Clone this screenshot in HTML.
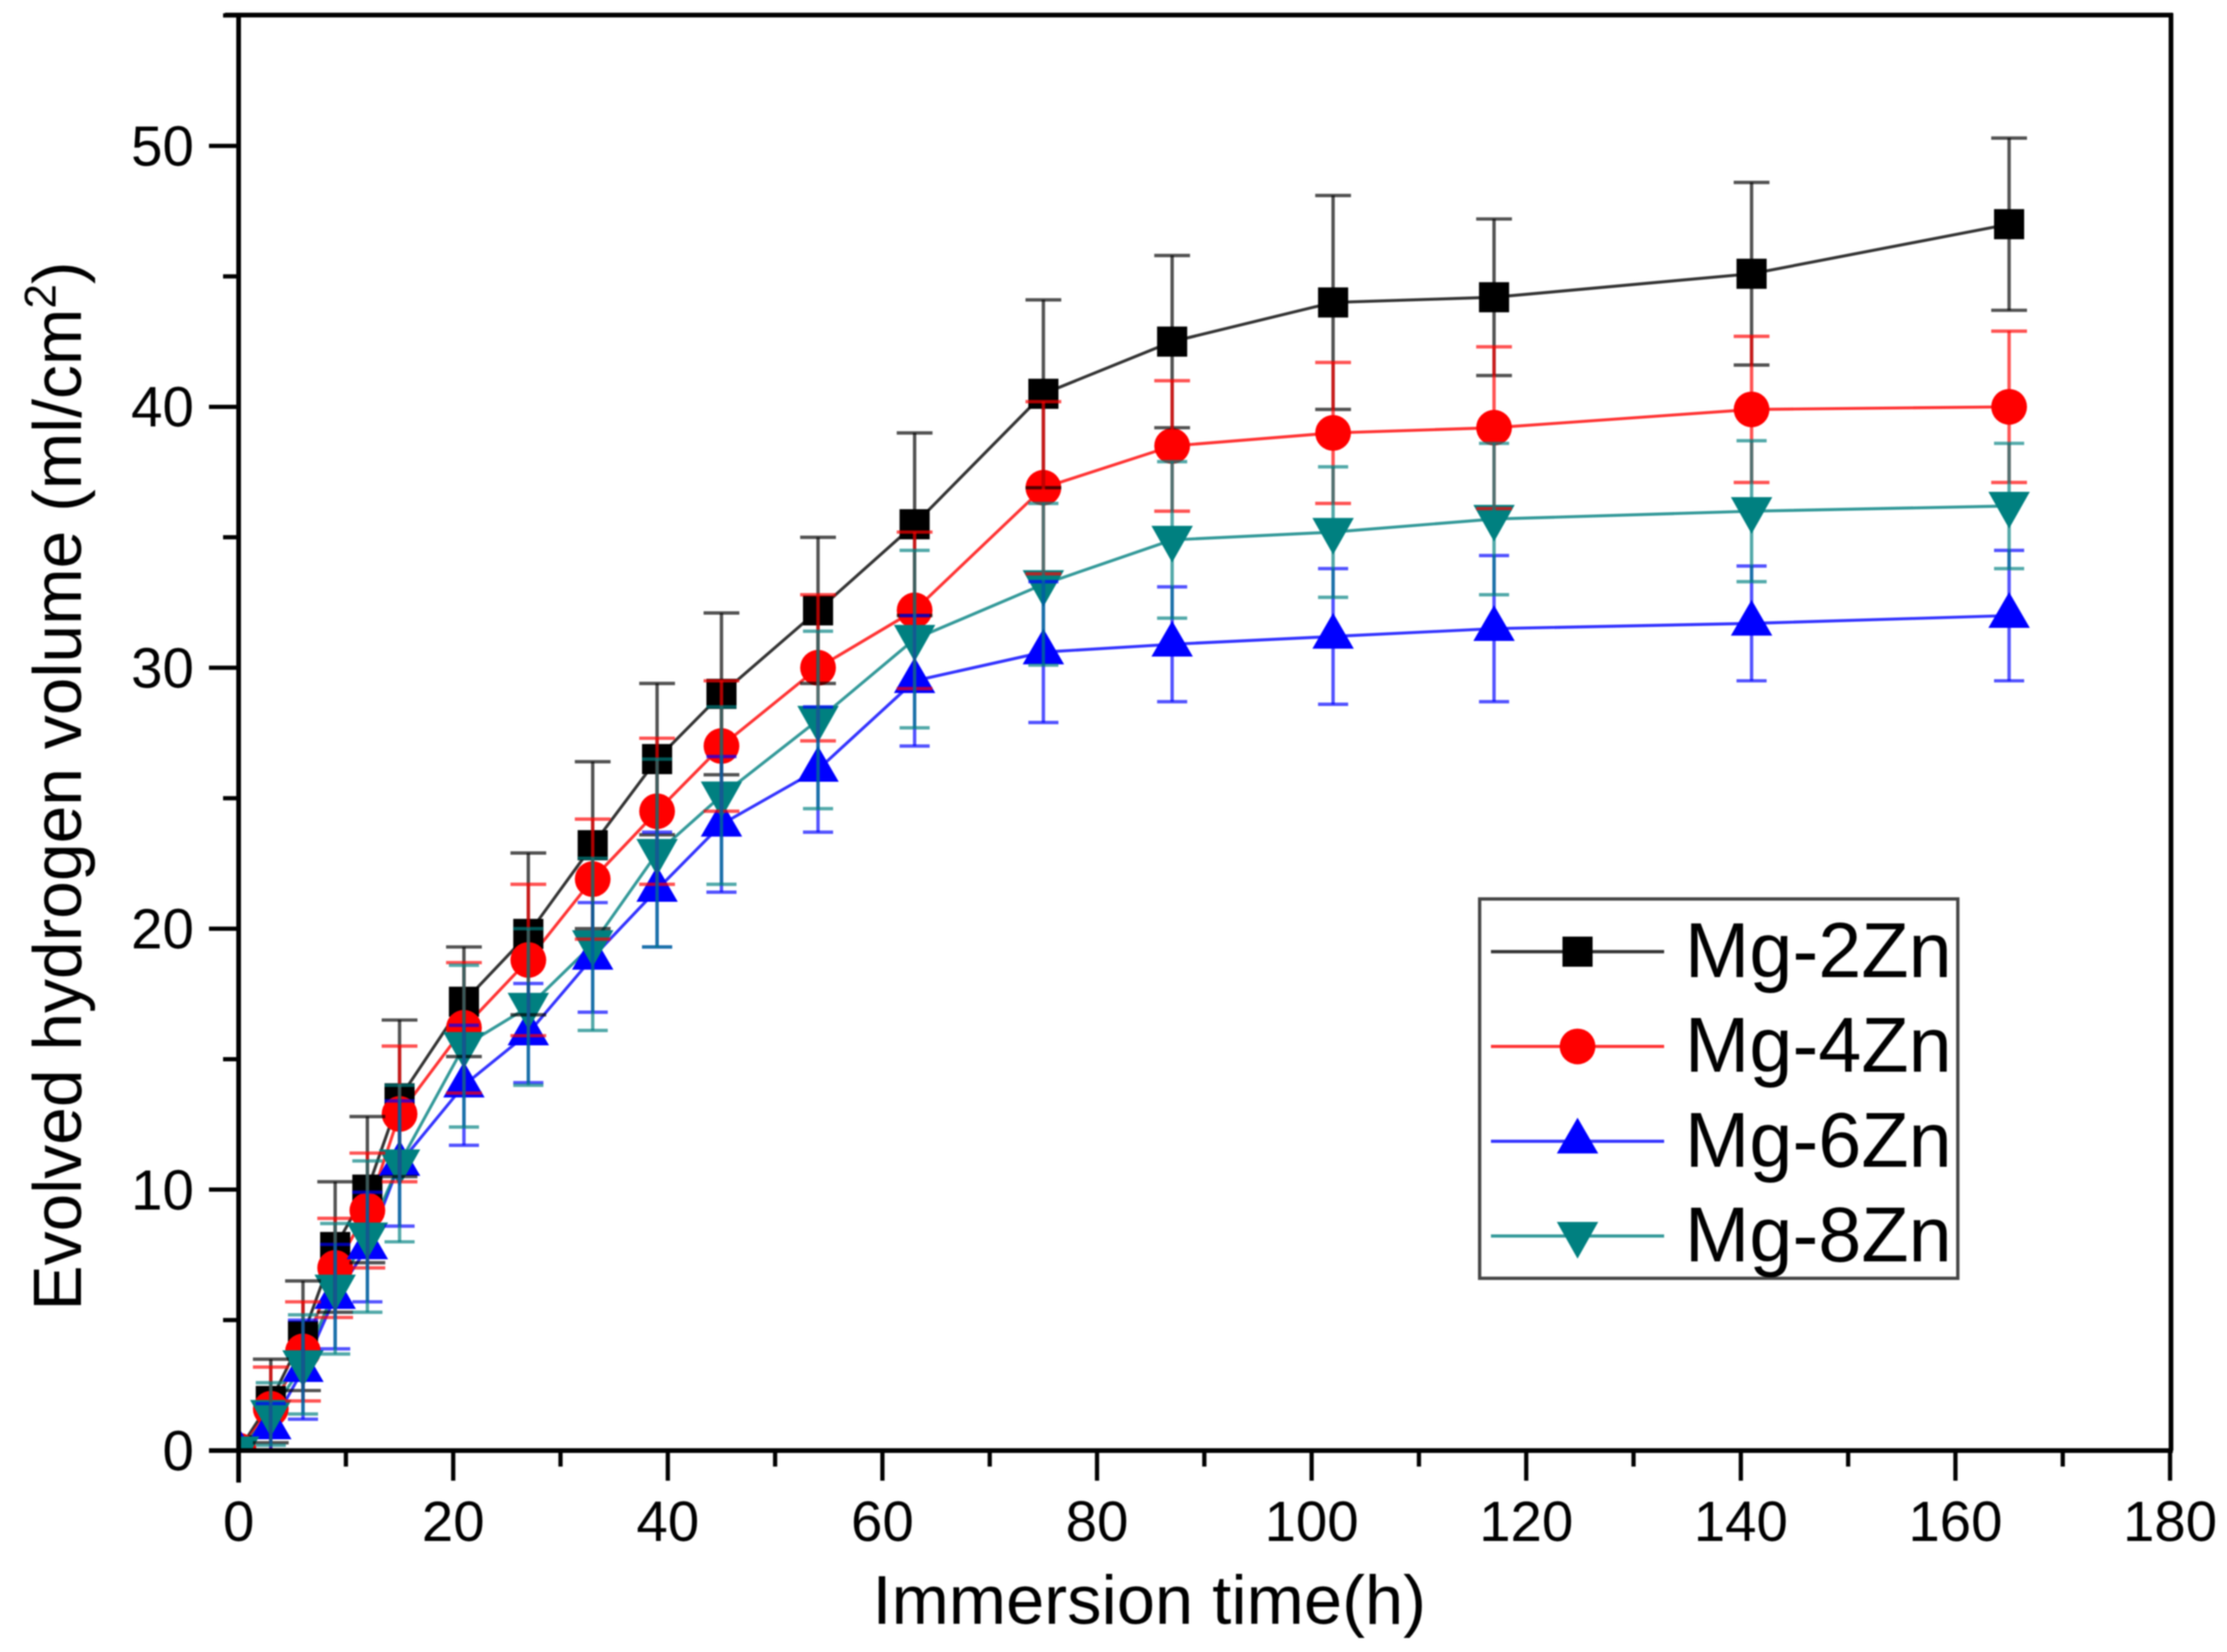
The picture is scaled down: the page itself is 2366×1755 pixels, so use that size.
<!DOCTYPE html>
<html>
<head>
<meta charset="utf-8">
<title>Evolved hydrogen volume chart</title>
<style>
html,body{margin:0;padding:0;background:#fff;width:2366px;height:1755px;overflow:hidden}
svg{display:block;font-family:"Liberation Sans",Arial,sans-serif;filter:blur(0.9px)}
</style>
</head>
<body>
<svg id="chart" xmlns="http://www.w3.org/2000/svg" width="2366" height="1755" viewBox="0 0 2366 1755">
<rect width="2366" height="1755" fill="#fff"/>
<defs><clipPath id="plot-clip"><rect x="254" y="16" width="2052" height="1525"/></clipPath></defs>
<g id="series-lines" clip-path="url(#plot-clip)"></g>
<g id="series-markers" clip-path="url(#plot-clip)"></g>
<g id="error-bars"></g>
<g id="axes"></g>
<text x="1221" y="1725" font-size="73" text-anchor="middle" fill="#000">Immersion time(h)</text>
<text transform="translate(86,835) rotate(-90)" font-size="72" text-anchor="middle" fill="#000">Evolved hydrogen volume (ml/cm<tspan font-size="47" dy="-27">2</tspan><tspan dy="27">)</tspan></text>
<g id="legend">
<rect x="1572" y="955" width="508" height="403" fill="#fff" stroke="#444" stroke-width="3.5"/>
</g>
</svg>
<script>
const times = [0,3,6,9,12,15,21,27,33,39,45,54,63,75,87,102,117,141,165];
const seriesNames = ["Mg-2Zn","Mg-4Zn","Mg-6Zn","Mg-8Zn"];
const mg2Values = [0,1.9,4.4,7.8,10,13.5,17.2,19.8,23.2,26.5,29,32.2,35.5,40.5,42.5,44,44.2,45.1,47];
const mg4Values = [0,1.6,3.8,7,9.2,12.9,16.2,18.8,21.9,24.5,27,30,32.2,36.9,38.5,39,39.2,39.9,40];
const mg6Values = [0,0.9,3.1,5.9,7.8,11,14,16,18.9,21.5,24,26.1,29.5,30.6,30.9,31.2,31.5,31.7,32];
const mg8Values = [0,1.4,3.3,6.2,8.2,11,15.5,17,19.4,22.9,25.1,28,31.1,33.2,34.9,35.2,35.7,36,36.2];
const mg2Errors = [0,1.6,2.1,2.5,2.8,3,2.1,3.1,3.2,2.9,3.1,2.8,3.5,3.6,3.3,4.1,3,3.5,3.3];
const mg4Errors = [0,1.6,1.9,1.9,2.2,2.6,2.5,2.9,2.3,2.8,2.5,2.8,3,3.3,2.5,2.7,3.1,2.8,2.9];
const mg6Errors = [0,0.9,1.9,2,2.1,2.4,2.3,1.9,2.1,2.2,2.6,2.4,2.5,2.7,2.2,2.6,2.8,2.2,2.5];
const mg8Errors = [0,1.2,1.9,2.5,2.9,3,3.1,3,3.3,3.6,3.4,3.4,3.4,3.1,3,2.5,2.9,2.7,2.4];
const xMajorTicks = [0,20,40,60,80,100,120,140,160,180];
const xMinorTicks = [10,30,50,70,90,110,130,150,170];
const yMajorTicks = [0,10,20,30,40,50];
const yMinorTicks = [5,15,25,35,45,55];

const allValues = [mg2Values, mg4Values, mg6Values, mg8Values];
const allErrors = [mg2Errors, mg4Errors, mg6Errors, mg8Errors];
const colors = ["#000000","#ff0000","#0000ff","#008080"];
const shapes = ["square","circle","up","down"];
const capHalf = [19,19,16,16];

const NS = "http://www.w3.org/2000/svg";
function xScale(v){ return 253.5 + v * 11.4; }
function yScale(v){ return 1541 - v * 27.72; }
function mk(tag, attrs, parent){
  const el = document.createElementNS(NS, tag);
  for (const k in attrs) el.setAttribute(k, attrs[k]);
  parent.appendChild(el);
  return el;
}
function markerShape(shape, cx, cy, color, parent){
  if (shape === "square") {
    return mk("rect", {x:cx-16, y:cy-16, width:32, height:32, fill:color}, parent);
  }
  if (shape === "circle") {
    return mk("circle", {cx:cx, cy:cy, r:19, fill:color}, parent);
  }
  if (shape === "up") {
    return mk("polygon", {points:`${cx},${cy-25} ${cx+22},${cy+13} ${cx-22},${cy+13}`, fill:color}, parent);
  }
  return mk("polygon", {points:`${cx-22},${cy-15} ${cx+22},${cy-15} ${cx},${cy+24}`, fill:color}, parent);
}

const linesG = document.getElementById("series-lines");
const markersG = document.getElementById("series-markers");
const errorsG = document.getElementById("error-bars");
const axesG = document.getElementById("axes");
const legendG = document.getElementById("legend");

allValues.forEach(function(vals, s){
  const pts = vals.map(function(v, i){ return xScale(times[i]) + "," + yScale(v); }).join(" ");
  const line = mk("polyline", {points:pts, fill:"none", stroke:colors[s], "stroke-width":3.2, "stroke-opacity":0.8}, linesG);
  
  
});

allValues.forEach(function(vals, s){
  vals.forEach(function(v, i){
    const m = markerShape(shapes[s], xScale(times[i]), yScale(v), colors[s], markersG);
    
    
  });
});

allValues.forEach(function(vals, s){
  vals.forEach(function(v, i){
    const e = allErrors[s][i];
    if (e === 0) return;
    const cx = xScale(times[i]);
    const top = yScale(v + e);
    const bottom = yScale(v - e);
    const h = capHalf[s];
    const g = mk("g", {stroke:colors[s], "stroke-opacity":0.68, "stroke-width":3.6, fill:"none"}, errorsG);
    
    
    mk("line", {x1:cx, x2:cx, y1:top, y2:bottom}, g);
    mk("line", {x1:cx-h, x2:cx+h, y1:top, y2:top}, g);
    mk("line", {x1:cx-h, x2:cx+h, y1:bottom, y2:bottom}, g);
  });
});

const frameLeft = mk("line", {x1:253.5, x2:253.5, y1:14, y2:1575, stroke:"#000", "stroke-width":5}, axesG);


const frameBottom = mk("line", {x1:222, x2:2308.5, y1:1541, y2:1541, stroke:"#000", "stroke-width":5}, axesG);


const frameTop = mk("line", {x1:239, x2:2308.5, y1:16, y2:16, stroke:"#000", "stroke-width":5}, axesG);


const frameRight = mk("line", {x1:2306.5, x2:2306.5, y1:14, y2:1541, stroke:"#000", "stroke-width":5}, axesG);



xMajorTicks.forEach(function(t){
  const x = xScale(t);
  const tick = mk("line", {x1:x, x2:x, y1:1541, y2:1573, stroke:"#000", "stroke-width":4.5}, axesG);
  
  
  const label = mk("text", {x:x, y:1637, "font-size":60, "text-anchor":"middle", fill:"#000"}, axesG);
  label.textContent = String(t);
  
  
});
xMinorTicks.forEach(function(t){
  const x = xScale(t);
  const tick = mk("line", {x1:x, x2:x, y1:1541, y2:1558, stroke:"#000", "stroke-width":4.5}, axesG);
  
  
});
yMajorTicks.forEach(function(t){
  const y = yScale(t);
  const tick = mk("line", {x1:222, x2:253.5, y1:y, y2:y, stroke:"#000", "stroke-width":4.5}, axesG);
  
  
  const label = mk("text", {x:206, y:y+21, "font-size":60, "text-anchor":"end", fill:"#000"}, axesG);
  label.textContent = String(t);
  
  
});
yMinorTicks.forEach(function(t){
  const y = yScale(t);
  const tick = mk("line", {x1:237, x2:253.5, y1:y, y2:y, stroke:"#000", "stroke-width":4.5}, axesG);
  
  
});

seriesNames.forEach(function(name, s){
  const rowY = 1011 + s * 100.7;
  const g = mk("g", {}, legendG);
  
  
  const ln = mk("line", {x1:1584, x2:1768, y1:rowY, y2:rowY, stroke:colors[s], "stroke-width":3.4, "stroke-opacity":0.8}, g);
  
  
  const mkr = markerShape(shapes[s], 1676, rowY, colors[s], g);
  
  
  const txt = mk("text", {x:1790, y:rowY+27, "font-size":82.3, fill:"#000"}, g);
  txt.textContent = name;
  
  
});
</script>
</body>
</html>
